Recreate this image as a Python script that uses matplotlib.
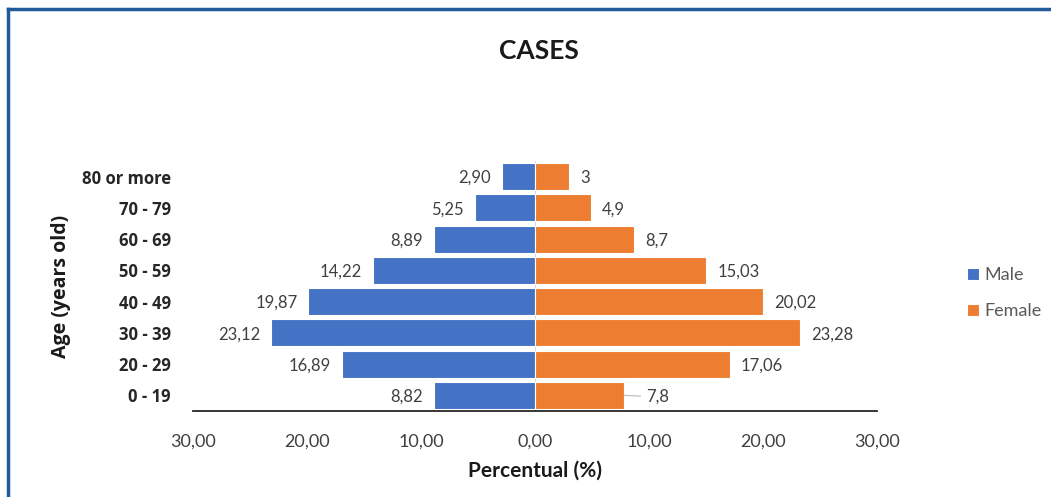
import matplotlib.pyplot as plt
from matplotlib.lines import Line2D
from matplotlib.ticker import FuncFormatter

# data
age_groups = ["0 - 19", "20 - 29", "30 - 39", "40 - 49", "50 - 59", "60 - 69", "70 - 79", "80 or more"]
male = [8.82, 16.89, 23.12, 19.87, 14.22, 8.89, 5.25, 2.90]
female = [7.8, 17.06, 23.28, 20.02, 15.03, 8.7, 4.9, 3]
male_labels = ["8,82", "16,89", "23,12", "19,87", "14,22", "8,89", "5,25", "2,90"]
female_labels = ["7,8", "17,06", "23,28", "20,02", "15,03", "8,7", "4,9", "3"]

blue = "#4472C4"
orange = "#ED7D31"
text_col = "#404040"

plt.rcParams['font.family'] = ['Lato', 'DejaVu Sans']

fig = plt.figure(figsize=(10.51, 4.97), dpi=100)
ax = fig.add_axes([0.1836, 0.173, 0.6509, 0.503])

pos = list(range(len(age_groups)))
ax.barh(pos, [-v for v in male], height=0.86, color=blue, edgecolor="white", linewidth=0.8, label="Male")
ax.barh(pos, female, height=0.86, color=orange, edgecolor="white", linewidth=0.8, label="Female")
ax.axvline(0, color="#d9d9d9", lw=0.8, zorder=0)

# data labels
for i in pos:
    ax.annotate(male_labels[i], (-male[i], i), xytext=(-8, -1), textcoords="offset points",
                ha="right", va="center", fontsize=12, color=text_col)
    if i == 0:
        # the lowest label sits a bit away with a leader line
        ax.annotate(female_labels[i], (female[i], i), xytext=(16, -1), textcoords="offset points",
                    ha="left", va="center", fontsize=12, color=text_col,
                    arrowprops=dict(arrowstyle="-", color="#bfbfbf", lw=0.9, shrinkA=2, shrinkB=0))
    else:
        ax.annotate(female_labels[i], (female[i], i), xytext=(8, -1), textcoords="offset points",
                    ha="left", va="center", fontsize=12, color=text_col)

ax.set_xlim(-30, 30)
ax.set_ylim(-0.5, len(age_groups) - 0.5)
ax.set_xticks([-30, -20, -10, 0, 10, 20, 30])
ax.xaxis.set_major_formatter(FuncFormatter(lambda v, p: f"{abs(v):.2f}".replace(".", ",")))
ax.set_yticks(pos)
ax.set_yticklabels(age_groups, fontweight="bold", fontsize=12, color="#262626", family="Open Sans")
ax.tick_params(axis="x", length=0, pad=16, labelsize=13, labelcolor=text_col)
ax.tick_params(axis="y", length=0, pad=16)

for s in ["top", "right", "left"]:
    ax.spines[s].set_visible(False)
ax.spines["bottom"].set_color("#262626")
ax.spines["bottom"].set_linewidth(1.3)

ax.set_xlabel("Percentual (%)", fontweight="bold", fontsize=15, labelpad=8, color="#1a1a1a")
ax.set_ylabel("Age (years old)", fontweight="bold", fontsize=14, labelpad=8, color="#1a1a1a",
              family="Open Sans")
fig.text(0.513, 0.897, "CASES", ha="center", va="center", fontsize=19, fontweight="bold", color="#1a1a1a")

fig.legend(loc="center left", bbox_to_anchor=(0.905, 0.41), frameon=False, fontsize=13,
           labelcolor="#595959", handlelength=0.65, handleheight=0.65, handletextpad=0.3,
           labelspacing=1.1)

# blue border (top and left)
fig.add_artist(Line2D([8 / 1051, 1.0], [1 - 9 / 497, 1 - 9 / 497], color="#1F5C99", lw=2.5, transform=fig.transFigure))
fig.add_artist(Line2D([8 / 1051, 8 / 1051], [0.0, 1 - 9 / 497], color="#1F5C99", lw=2.5, transform=fig.transFigure))

fig.savefig("out.png", dpi=100)
